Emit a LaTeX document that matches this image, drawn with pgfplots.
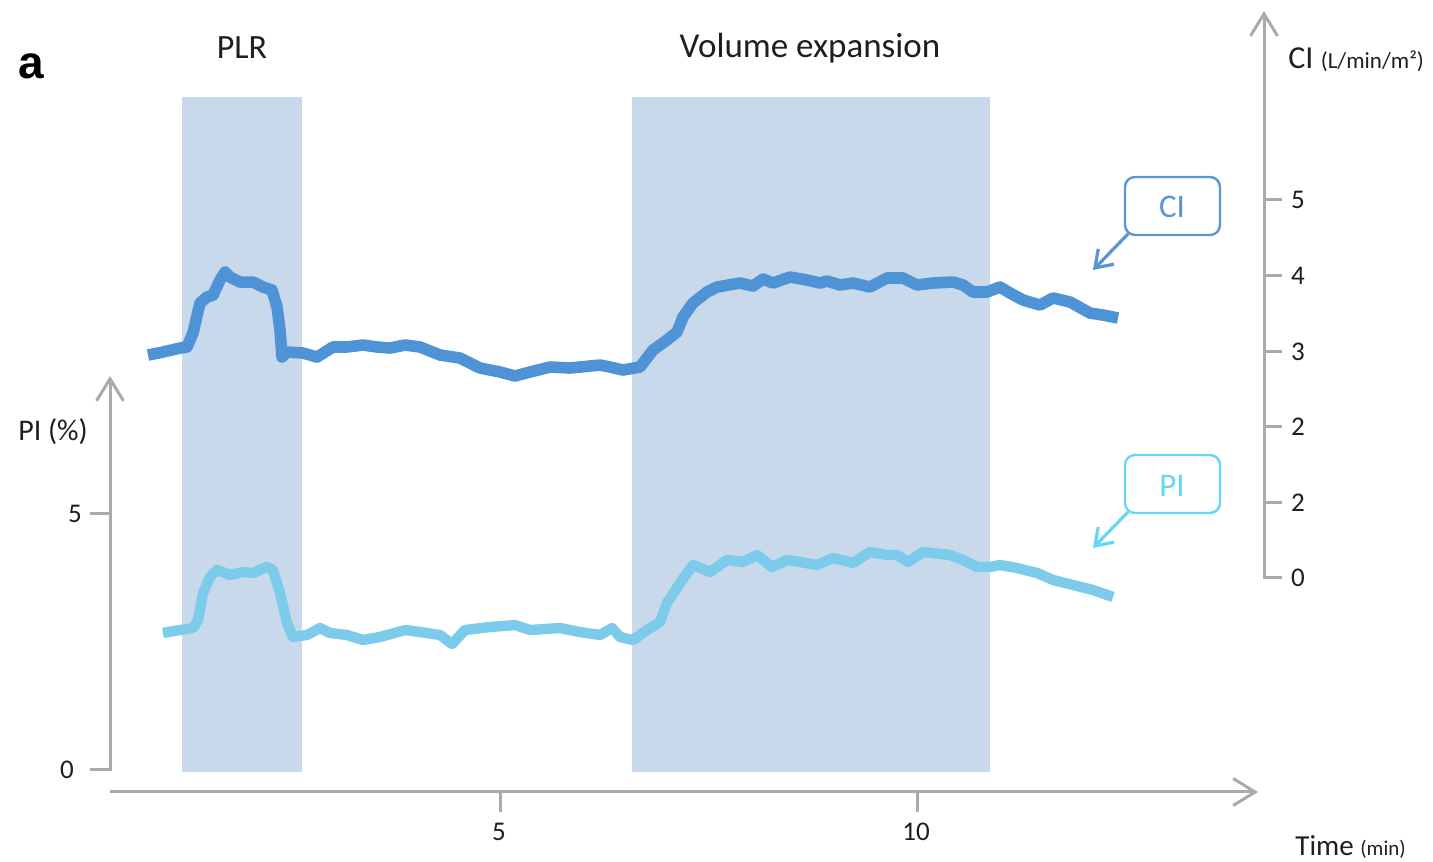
\documentclass[border=0pt]{standalone}
\usepackage{pgfplots}
\pgfplotsset{compat=1.18}
\usepackage{fontspec}
\setmainfont{Carlito}
\newfontfamily\arialfont{Liberation Sans}
\usetikzlibrary{arrows.meta}
\definecolor{ciblue}{RGB}{77,147,213}
\definecolor{piblue}{RGB}{125,203,235}
\definecolor{shade}{RGB}{200,217,236}
\definecolor{axgray}{RGB}{170,170,170}
\definecolor{ciboxc}{RGB}{88,148,214}
\definecolor{piboxc}{RGB}{100,214,246}
\definecolor{txt}{RGB}{30,30,30}
\pgfplotstableread{
t c
0.779 2.950
0.959 2.989
1.163 3.042
1.247 3.056
1.319 3.241
1.403 3.638
1.487 3.717
1.559 3.743
1.643 3.942
1.703 4.048
1.763 3.981
1.882 3.915
2.038 3.915
2.158 3.849
2.266 3.810
2.326 3.585
2.362 3.280
2.386 2.923
2.446 2.989
2.638 2.976
2.806 2.923
2.998 3.056
3.165 3.056
3.357 3.082
3.525 3.056
3.681 3.042
3.861 3.082
4.041 3.056
4.281 2.950
4.520 2.910
4.760 2.778
5.000 2.725
5.180 2.672
5.360 2.725
5.600 2.791
5.839 2.778
6.079 2.804
6.199 2.817
6.319 2.791
6.475 2.751
6.679 2.791
6.835 3.016
7.002 3.148
7.122 3.254
7.194 3.452
7.314 3.638
7.482 3.783
7.602 3.849
7.878 3.902
8.034 3.862
8.153 3.955
8.273 3.902
8.477 3.981
8.681 3.942
8.837 3.902
8.921 3.929
9.077 3.876
9.233 3.902
9.436 3.849
9.640 3.968
9.832 3.968
10.000 3.876
10.192 3.902
10.432 3.915
10.552 3.876
10.671 3.783
10.839 3.783
10.995 3.849
11.115 3.770
11.271 3.677
11.475 3.611
11.631 3.704
11.835 3.651
12.074 3.505
12.230 3.479
12.410 3.439
}\citable
\pgfplotstableread{
t p
0.959 2.676
1.163 2.734
1.319 2.773
1.379 2.930
1.439 3.457
1.523 3.770
1.607 3.906
1.763 3.809
1.918 3.867
2.038 3.848
2.206 3.965
2.278 3.906
2.362 3.457
2.446 2.871
2.518 2.598
2.686 2.637
2.842 2.773
2.962 2.676
3.165 2.637
3.357 2.539
3.561 2.598
3.861 2.734
4.041 2.695
4.281 2.637
4.424 2.461
4.580 2.734
4.880 2.793
5.180 2.832
5.360 2.734
5.719 2.773
5.959 2.695
6.199 2.637
6.343 2.773
6.439 2.598
6.595 2.539
6.763 2.734
6.918 2.891
7.002 3.262
7.158 3.652
7.314 4.004
7.518 3.867
7.722 4.102
7.914 4.063
8.082 4.199
8.261 3.965
8.441 4.102
8.597 4.063
8.801 4.004
8.993 4.141
9.233 4.043
9.436 4.258
9.640 4.199
9.760 4.199
9.892 4.063
10.072 4.258
10.396 4.199
10.552 4.102
10.719 3.965
10.875 3.965
10.995 4.004
11.199 3.945
11.439 3.848
11.631 3.711
11.871 3.613
12.110 3.516
12.350 3.379
}\pitable
\begin{document}
\begin{tikzpicture}
\useasboundingbox (0,0) rectangle (716.5pt,430.5pt);
\pgfplotsset{base/.style={at={(0,0)}, anchor=south west, scale only axis,
  width=716.5pt, height=430.5pt, xmin=-0.9952, xmax=16.187, hide axis, clip=true}}
\begin{axis}[base, ymin=-1.777, ymax=15.039]
\addplot[fill=shade, draw=none] coordinates {(1.187,-0.039) (2.626,-0.039) (2.626,13.14) (1.187,13.14)} -- cycle;
\addplot[fill=shade, draw=none] coordinates {(6.583,-0.039) (10.875,-0.039) (10.875,13.14) (6.583,13.14)} -- cycle;
\addplot[piblue, line width=5.2pt, line join=round, line cap=butt] table[x=t,y=p] {\pitable};
\end{axis}
\begin{axis}[base, ymin=-3.743, ymax=7.646]
\addplot[ciblue, line width=5.8pt, line join=round, line cap=butt] table[x=t,y=c] {\citable};
\end{axis}
\begin{scope}[x=0.5pt,y=-0.5pt,yshift=430.5pt]
\tikzset{ax/.style={axgray, line width=1.5pt},
  bigarrow/.style={-{Straight Barb[length=11pt,width=13.5pt,line width=1.5pt]}}}
% x axis
\draw[ax,bigarrow] (110,792) -- (1258,792);
\draw[ax] (500,792) -- (500,812);
\draw[ax] (917,792) -- (917,812);
\node[txt,font=\fontsize{13.5}{15}\selectfont] at (499,832) {5};
\node[txt,font=\fontsize{13.5}{15}\selectfont] at (916,832) {10};
% left axis
\draw[ax,bigarrow] (90,770) -- (110,770) -- (110,376);
\draw[ax] (90,514) -- (110,514);
\node[txt,font=\fontsize{13.5}{15}\selectfont] at (75,514) {5};
\node[txt,font=\fontsize{13.5}{15}\selectfont] at (67,770) {0};
\node[txt,font=\fontsize{15}{17}\selectfont] at (53,432) {PI (\%)};
% right axis
\draw[ax,bigarrow] (1282,578) -- (1264,578) -- (1264,11);
\foreach \yy in {503,427,352,276,200} {\draw[ax] (1264,\yy) -- (1282,\yy);}
\foreach \yy/\lab in {578/0,503/2,427/2,352/3,276/4,200/5}
  {\node[txt,font=\fontsize{13.5}{15}\selectfont] at (1298,\yy) {\lab};}
\node[txt,anchor=west,inner sep=0pt] at (1288,60) {\fontsize{16}{18}\selectfont CI \fontsize{11.5}{13}\selectfont(L/min/m²)};
\node[txt,anchor=west,inner sep=0pt] at (1295,847) {\fontsize{14.5}{16}\selectfont Time \fontsize{10.5}{12}\selectfont(min)};
% titles
\node[txt,font=\fontsize{17}{19}\selectfont] at (242,48) {PLR};
\node[txt,font=\fontsize{17.5}{19}\selectfont] at (810,48) {Volume expansion};
\node[black,font=\arialfont\bfseries\fontsize{23}{26}\selectfont] at (31,66) {a};
% callouts
\draw[ciboxc, line width=1.2pt, rounded corners=5pt] (1125,177) rectangle (1220,235);
\node[ciboxc,font=\fontsize{16.5}{18}\selectfont] at (1172,207) {CI};
\draw[ciboxc, line width=1.6pt, -{Straight Barb[length=8pt,width=11pt,line width=1.6pt]}] (1128,234) -- (1093,270);
\draw[piboxc, line width=1.2pt, rounded corners=5pt] (1125,455) rectangle (1220,513);
\node[piboxc,font=\fontsize{16.5}{18}\selectfont] at (1172,486) {PI};
\draw[piboxc, line width=1.6pt, -{Straight Barb[length=8pt,width=11pt,line width=1.6pt]}] (1128,512) -- (1093,548);
\end{scope}
\end{tikzpicture}
\end{document}
